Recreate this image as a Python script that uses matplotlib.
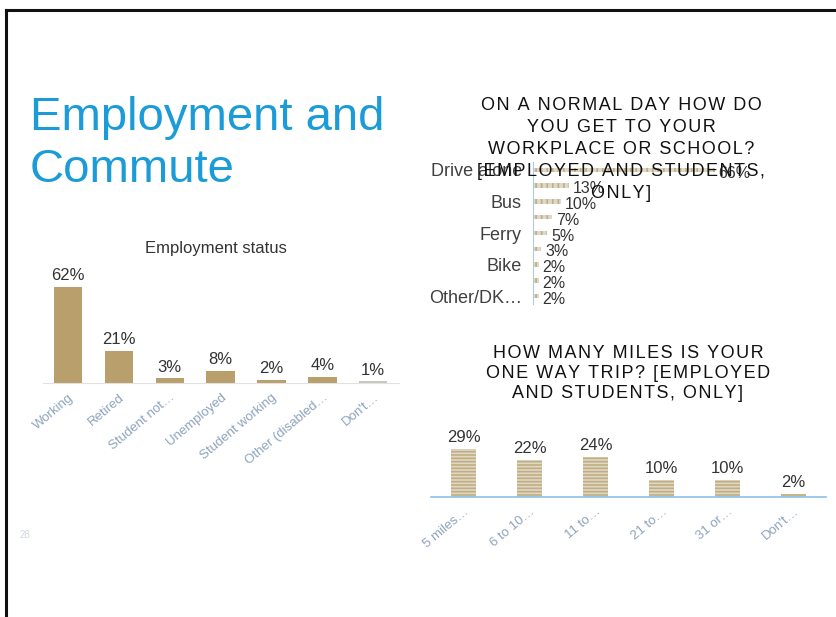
import matplotlib
matplotlib.use("Agg")
import matplotlib.pyplot as plt
from matplotlib.lines import Line2D

W, H = 836, 617
plt.rcParams['font.family'] = ['Liberation Sans', 'DejaVu Sans']
plt.rcParams['hatch.linewidth'] = 1.2

# ---- data ----
emp_labels = ["Working", "Retired", "Student not…", "Unemployed", "Student working", "Other (disabled…", "Don't…"]
emp_values = [62, 21, 3, 8, 2, 4, 1]

mode_labels = ["Drive alone", "", "Bus", "", "Ferry", "", "Bike", "", "Other/DK…"]
mode_values = [66, 13, 10, 7, 5, 3, 2, 2, 2]

miles_labels = ["5 miles…", "6 to 10…", "11 to…", "21 to…", "31 or…", "Don't…"]
miles_values = [29, 22, 24, 10, 10, 2]

title2 = ["ON A NORMAL DAY HOW DO", "YOU GET TO YOUR", "WORKPLACE OR SCHOOL?",
          "[EMPLOYED AND STUDENTS,", "ONLY]"]
title3 = ["HOW MANY MILES IS YOUR", "ONE WAY TRIP? [EMPLOYED", "AND STUDENTS, ONLY]"]

fig = plt.figure(figsize=(W / 100, H / 100), dpi=100)
fig.patch.set_facecolor('white')


def rect(x0, y0, x1, y1):
    return [x0 / W, 1 - y1 / H, (x1 - x0) / W, (y1 - y0) / H]


def fx(x):
    return x / W


def fy(y):
    return 1 - y / H


def tracked(s):
    return "\u200a".join(s)


# slide frame (top and left edges)
fig.add_artist(Line2D([fx(6), fx(836)], [fy(10), fy(10)], color='#111111', lw=2.2))
fig.add_artist(Line2D([fx(6), fx(6)], [fy(10), fy(617)], color='#111111', lw=2.2))

# slide title
fig.text(fx(30), fy(130), "Employment and", fontsize=34, color='#1b9bd7', va='baseline', ha='left')
fig.text(fx(30), fy(182), "Commute", fontsize=34, color='#1b9bd7', va='baseline', ha='left')
fig.text(fx(20), fy(535), "28", fontsize=7, color='#d0d8e4', va='center', ha='left')

tick_col = '#8ea3bd'
text_col = '#333333'

# ---- Employment status ----
ax1 = fig.add_axes(rect(42.6, 275, 398.6, 383))
x1 = list(range(len(emp_values)))
cols1 = ['#b89f6c'] * (len(emp_values) - 1) + ['#c9c6bd']
ax1.bar(x1, emp_values, width=0.56, color=cols1)
ax1.set_xlim(-0.5, len(emp_values) - 0.5)
ax1.set_ylim(0, 70)
for i, v in enumerate(emp_values):
    ax1.text(i, v + 2.5, f"{v}%", ha='center', va='bottom', fontsize=12, color=text_col)
ax1.set_xticks(x1)
ax1.set_xticklabels(emp_labels, rotation=40, ha='right', rotation_mode='anchor',
                    fontsize=9.5, color=tick_col)
ax1.tick_params(axis='x', length=0, pad=6)
ax1.set_yticks([])
for s in ['top', 'right', 'left']:
    ax1.spines[s].set_visible(False)
ax1.spines['bottom'].set_color('#e2e2e2')
ax1.patch.set_alpha(0)
fig.text(fx(216), fy(249), "Employment status", fontsize=12, color=text_col, ha='center', va='center')

# ---- Mode of commute (horizontal) ----
ax2 = fig.add_axes(rect(533, 162, 808, 304))
y2 = list(range(len(mode_values)))
ax2.barh(y2, mode_values, height=0.28, color='#dcd8cc', edgecolor='#c4ad7c', hatch='|||', linewidth=0)
ax2.set_ylim(len(mode_values) - 0.5, -0.5)
ax2.set_xlim(0, 100)
for i, v in enumerate(mode_values):
    ax2.text(v + 1.5, i + 0.2, f"{v}%", ha='left', va='center', fontsize=11.5, color=text_col)
ax2.set_yticks(y2)
ax2.set_yticklabels(mode_labels, fontsize=13, color='#404040')
ax2.tick_params(axis='y', length=0, pad=8)
ax2.set_xticks([])
for s in ['top', 'right', 'bottom']:
    ax2.spines[s].set_visible(False)
ax2.spines['left'].set_color('#a9cbe6')
ax2.patch.set_alpha(0)

for k, line in enumerate(title2):
    fig.text(fx(621), fy(105 + 22 * k), tracked(line), fontsize=13, color='#111111',
             ha='center', va='center', zorder=10)

# ---- Miles ----
ax3 = fig.add_axes(rect(431, 425, 826, 497))
x3 = list(range(len(miles_values)))
ax3.bar(x3, miles_values, width=0.38, color='#dcd8cc', edgecolor='#c4ad7c', hatch='-----', linewidth=0)
ax3.set_xlim(-0.5, len(miles_values) - 0.5)
ax3.set_ylim(0, 72 / 1.66)
for i, v in enumerate(miles_values):
    ax3.text(i, v + 2.5, f"{v}%", ha='center', va='bottom', fontsize=12, color=text_col)
ax3.set_xticks(x3)
ax3.set_xticklabels(miles_labels, rotation=40, ha='right', rotation_mode='anchor',
                    fontsize=9.5, color=tick_col)
ax3.tick_params(axis='x', length=0, pad=6)
ax3.set_yticks([])
for s in ['top', 'right', 'left']:
    ax3.spines[s].set_visible(False)
ax3.spines['bottom'].set_color('#8fc0e6')
ax3.spines['bottom'].set_linewidth(1.2)
ax3.patch.set_alpha(0)

for k, line in enumerate(title3):
    fig.text(fx(628), fy(354 + 20 * k), tracked(line), fontsize=13, color='#111111',
             ha='center', va='center')

fig.savefig("out.png", dpi=100, facecolor='white')
